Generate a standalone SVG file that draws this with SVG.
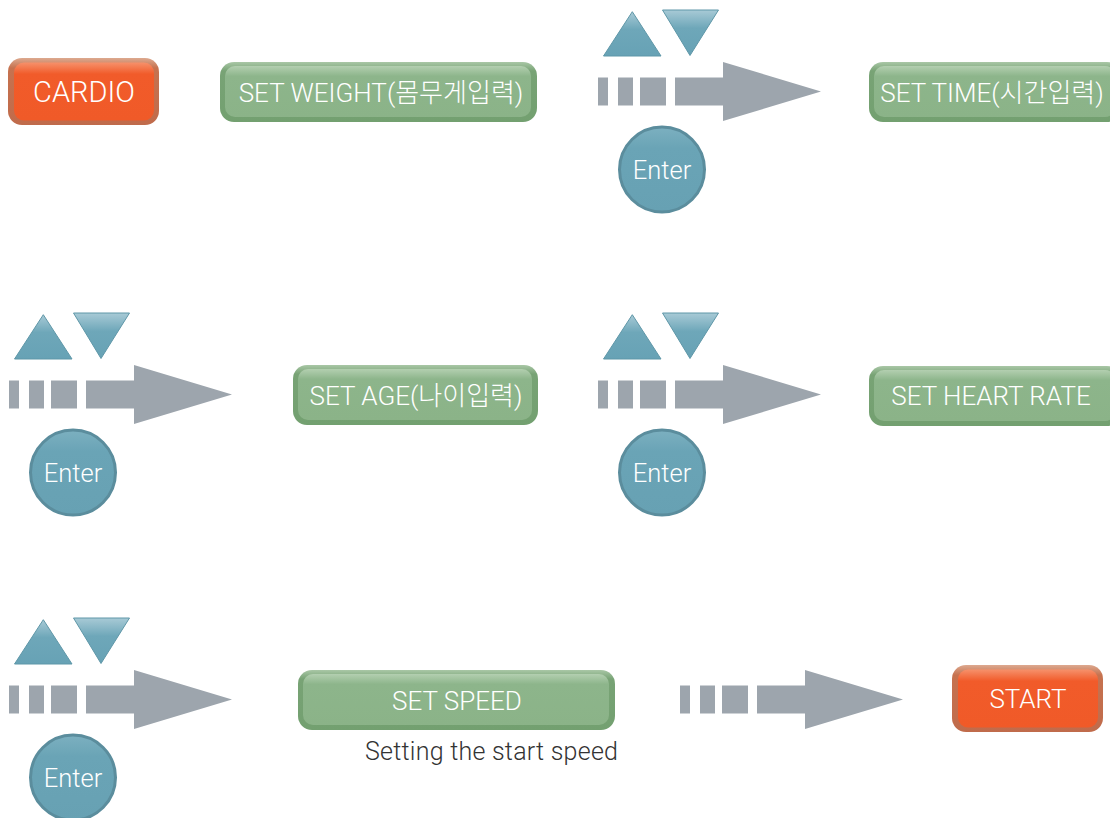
<svg xmlns="http://www.w3.org/2000/svg" xmlns:xlink="http://www.w3.org/1999/xlink" width="1110" height="818" viewBox="0 0 1110 818">
<style>
.lbl{font-family:Roboto,"Noto Sans CJK KR",sans-serif;font-weight:300;fill:#ffffff;text-anchor:middle;font-size:26px}
.cap{font-family:Roboto,"Noto Sans CJK KR",sans-serif;font-weight:300;fill:#333333;font-size:25px}
.arrow{fill:#9da5ad}
.tri{fill:url(#triG);stroke:#5f97a8;stroke-width:1}
.enter{fill:url(#circG);stroke:#5b8d9d;stroke-width:3}
.oOut{fill:url(#oBorder)}
.oIn{fill:url(#oFace)}
.gOut{fill:url(#gBorder)}
.gIn{fill:url(#gFace)}
</style>
<defs>
<linearGradient id="triG" x1="0" y1="0" x2="0" y2="1">
<stop offset="0" stop-color="#a8cad6"/><stop offset="0.4" stop-color="#6ea7b9"/><stop offset="1" stop-color="#67a2b5"/>
</linearGradient>
<linearGradient id="circG" x1="0" y1="0" x2="0" y2="1">
<stop offset="0" stop-color="#7cb0c0"/><stop offset="0.25" stop-color="#6aa4b6"/><stop offset="1" stop-color="#67a1b3"/>
</linearGradient>
<linearGradient id="oBorder" x1="0" y1="0" x2="0" y2="1">
<stop offset="0" stop-color="#dda98f"/><stop offset="0.15" stop-color="#c6724f"/><stop offset="1" stop-color="#c06b4b"/>
</linearGradient>
<linearGradient id="oFace" x1="0" y1="0" x2="0" y2="1">
<stop offset="0" stop-color="#f6916b"/><stop offset="0.2" stop-color="#f15b2a"/><stop offset="1" stop-color="#f05a28"/>
</linearGradient>
<linearGradient id="gBorder" x1="0" y1="0" x2="0" y2="1">
<stop offset="0" stop-color="#a9c7a6"/><stop offset="0.15" stop-color="#78a375"/><stop offset="1" stop-color="#73a070"/>
</linearGradient>
<linearGradient id="gFace" x1="0" y1="0" x2="0" y2="1">
<stop offset="0" stop-color="#b3cfb0"/><stop offset="0.2" stop-color="#8db58b"/><stop offset="1" stop-color="#8bb388"/>
</linearGradient>
<g id="arrowShape" class="arrow">
<rect x="0" y="-14" width="10" height="28"/>
<rect x="20" y="-14" width="15" height="28"/>
<rect x="42" y="-14" width="26" height="28"/>
<polygon points="77,-14 125,-14 125,-29.5 223,0 125,29.5 125,14 77,14"/>
</g>
<g id="controls">
<polygon class="tri" points="34.3,-79.8 63,-35.5 5.5,-35.5"/>
<polygon class="tri" points="64.5,-81.5 120.5,-81.5 92,-36"/>
<circle class="enter" cx="64" cy="78" r="42.5"/>
<text class="lbl" x="64" y="87.5" style="font-size:25.5px">Enter</text>
</g>
</defs>

<g id="connectors">
<use xlink:href="#arrowShape" transform="translate(598,91.5)"/>
<use xlink:href="#arrowShape" transform="translate(9,394.5)"/>
<use xlink:href="#arrowShape" transform="translate(598,394.5)"/>
<use xlink:href="#arrowShape" transform="translate(9,699.5)"/>
<use xlink:href="#arrowShape" transform="translate(680,699.5)"/>
</g>

<g id="controls-1"><use xlink:href="#controls" transform="translate(598,91.5)"/></g>
<g id="controls-2"><use xlink:href="#controls" transform="translate(9,394.5)"/></g>
<g id="controls-3"><use xlink:href="#controls" transform="translate(598,394.5)"/></g>
<g id="controls-4"><use xlink:href="#controls" transform="translate(9,699.5)"/></g>

<g id="cardio">
<rect class="oOut" x="8" y="58" width="151" height="67" rx="14"/>
<rect class="oIn" x="14" y="62.5" width="140" height="58" rx="10"/>
<text class="lbl" x="84" y="102" style="font-size:29px">CARDIO</text>
</g>

<g id="set-weight">
<rect class="gOut" x="220" y="62" width="317" height="60" rx="14"/>
<rect class="gIn" x="225" y="66" width="306" height="51" rx="10"/>
<text class="lbl" x="381" y="101.5">SET WEIGHT(몸무게입력)</text>
</g>

<g id="set-time">
<rect class="gOut" x="869" y="62" width="252" height="60" rx="14"/>
<rect class="gIn" x="874" y="66" width="241" height="51" rx="10"/>
<text class="lbl" x="992" y="101.5">SET TIME(시간입력)</text>
</g>

<g id="set-age">
<rect class="gOut" x="293" y="365" width="245" height="60" rx="14"/>
<rect class="gIn" x="298" y="369" width="234" height="51" rx="10"/>
<text class="lbl" x="416" y="404.5">SET AGE(나이입력)</text>
</g>

<g id="set-heart-rate">
<rect class="gOut" x="869" y="366" width="252" height="60" rx="14"/>
<rect class="gIn" x="874" y="370" width="241" height="51" rx="10"/>
<text class="lbl" x="991" y="405">SET HEART RATE</text>
</g>

<g id="set-speed">
<rect class="gOut" x="298" y="670" width="317" height="60" rx="14"/>
<rect class="gIn" x="303" y="674" width="306" height="51" rx="10"/>
<text class="lbl" x="457" y="709.5">SET SPEED</text>
<text class="cap" x="365" y="760" textLength="253">Setting the start speed</text>
</g>

<g id="start">
<rect class="oOut" x="952" y="665" width="151" height="67" rx="14"/>
<rect class="oIn" x="958" y="669.5" width="140" height="58" rx="10"/>
<text class="lbl" x="1028" y="707.5">START</text>
</g>
</svg>
